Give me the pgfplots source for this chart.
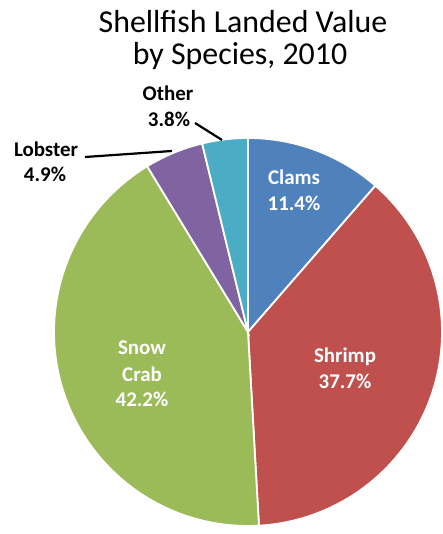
\documentclass[border=0pt]{standalone}
\usepackage{pgfplots}
\pgfplotsset{compat=1.18}
\usepackage{fontspec}
\setmainfont{Carlito}
\definecolor{cClams}{HTML}{4F81BD}
\definecolor{cShrimp}{HTML}{C0504D}
\definecolor{cCrab}{HTML}{9BBB59}
\definecolor{cLobster}{HTML}{8064A2}
\definecolor{cOther}{HTML}{4BACC6}
% shares (percent), clockwise from the top
\def\pClams{11.4}
\def\pShrimp{37.7}
\def\pCrab{42.2}
\def\pLobster{4.9}
\def\pOther{3.8}
\def\cx{248}
\def\cy{202}
\def\R{194}
\tikzset{lab/.style={anchor=base, font=\fontsize{21}{26}\selectfont\bfseries}}
\begin{document}
\begin{tikzpicture}
\begin{axis}[
  x=1bp, y=1bp, scale only axis,
  xmin=0, xmax=442, ymin=0, ymax=534,
  hide axis, clip=false,
]
\path (axis cs:0,0) rectangle (axis cs:442,534);
% Clams
\addplot[fill=cClams, draw=white, line width=1.8bp, domain={90-3.6*\pClams}:90, samples=40, variable=\t]
  ({\cx+\R*cos(\t)},{\cy+\R*sin(\t)}) -- (axis cs:\cx,\cy) -- cycle;
% Shrimp
\addplot[fill=cShrimp, draw=white, line width=1.8bp, domain={90-3.6*(\pClams+\pShrimp)}:{90-3.6*\pClams}, samples=80, variable=\t]
  ({\cx+\R*cos(\t)},{\cy+\R*sin(\t)}) -- (axis cs:\cx,\cy) -- cycle;
% Snow Crab
\addplot[fill=cCrab, draw=white, line width=1.8bp, domain={90-3.6*(\pClams+\pShrimp+\pCrab)}:{90-3.6*(\pClams+\pShrimp)}, samples=80, variable=\t]
  ({\cx+\R*cos(\t)},{\cy+\R*sin(\t)}) -- (axis cs:\cx,\cy) -- cycle;
% Lobster
\addplot[fill=cLobster, draw=white, line width=1.8bp, domain={90-3.6*(\pClams+\pShrimp+\pCrab+\pLobster)}:{90-3.6*(\pClams+\pShrimp+\pCrab)}, samples=20, variable=\t]
  ({\cx+\R*cos(\t)},{\cy+\R*sin(\t)}) -- (axis cs:\cx,\cy) -- cycle;
% Other
\addplot[fill=cOther, draw=white, line width=1.8bp, domain={90-3.6*(\pClams+\pShrimp+\pCrab+\pLobster+\pOther)}:{90-3.6*(\pClams+\pShrimp+\pCrab+\pLobster)}, samples=20, variable=\t]
  ({\cx+\R*cos(\t)},{\cy+\R*sin(\t)}) -- (axis cs:\cx,\cy) -- cycle;

% title
\node[anchor=base, font=\fontsize{32}{32}\selectfont] at (axis cs:243,501) {Shellfish Landed Value};
\node[anchor=base, font=\fontsize{32}{32}\selectfont] at (axis cs:240,469) {by Species, 2010};

% slice labels
\node[lab, white] at (axis cs:294,349) {Clams};
\node[lab, white] at (axis cs:294,323) {11.4\%};
\node[lab, white] at (axis cs:345,171) {Shrimp};
\node[lab, white] at (axis cs:345,145) {37.7\%};
\node[lab, white] at (axis cs:142,179) {Snow};
\node[lab, white] at (axis cs:142,152) {Crab};
\node[lab, white] at (axis cs:142,127) {42.2\%};
\node[lab] at (axis cs:46,377) {Lobster};
\node[lab] at (axis cs:45,352) {4.9\%};
\node[lab] at (axis cs:168,433) {Other};
\node[lab] at (axis cs:169,407) {3.8\%};
% leader lines
\draw[black, line width=2.2bp] (axis cs:85,377) -- (axis cs:172,383);
\draw[black, line width=2.2bp] (axis cs:195,411) -- (axis cs:222,394);
\end{axis}
\end{tikzpicture}
\end{document}
